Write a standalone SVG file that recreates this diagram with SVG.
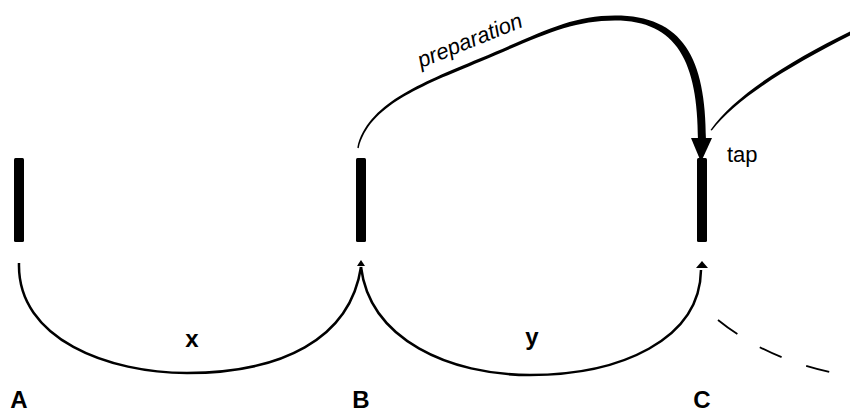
<svg xmlns="http://www.w3.org/2000/svg" width="850" height="415" viewBox="0 0 850 415">
<style>
.bar{fill:#000}
.arc{fill:none;stroke:#000;stroke-width:2.5}
.lbl{font-family:"Liberation Sans",Arial,sans-serif;font-weight:bold;font-size:24px;fill:#000;text-anchor:middle}
.sm{font-family:"Liberation Sans",Arial,sans-serif;font-size:22px;fill:#000}
</style>
<rect width="850" height="415" fill="#fff"/>
<g id="nodeA"><rect class="bar" x="14" y="158" width="10" height="84" rx="1.5"/><text class="lbl" x="19" y="408">A</text></g>
<g id="nodeB"><rect class="bar" x="356" y="158" width="10" height="84" rx="1.5"/><text class="lbl" x="361" y="408">B</text></g>
<g id="nodeC"><rect class="bar" x="697" y="158" width="10" height="84" rx="1.5"/><text class="lbl" x="702" y="408">C</text></g>
<g id="connectors">
<path class="arc" d="M19,263 C17,340 110,373 187,373 C280,373 350,340 361,267"/>
<polygon points="361,260 365,266 357,266"/>
<text class="lbl" x="192" y="347">x</text>
<path class="arc" d="M361,267 C370,340 450,375 530,375 C620,375 700,340 701,270"/>
<polygon points="702,261 708,268 696,268"/>
<text class="lbl" x="532" y="345">y</text>
<path d="M357.3,147.8 C367,104.5 419.4,83.6 479.4,58.6 C539.4,33.6 569.5,15.5 615,15.5 C683,15.5 706,58 706,140 L698,140 C698,62 677,20.5 615,20.5 C570.5,20.5 540.6,36.4 480.6,61.4 C420.6,86.4 369,105.5 358.7,148.2 Z"/>
<polygon points="691,138 712,138 701,162"/>
<text class="sm" font-style="italic" font-size="23" transform="translate(421,68) rotate(-22)">preparation</text>
<path d="M850,31.5 C790,61 735,95 710.5,130 L711.8,130.5 C737,97.5 792,65 850,35.5 Z"/>
<text class="sm" x="727" y="162">tap</text>
<path d="M718,320 Q770,362 845,375" fill="none" stroke="#000" stroke-width="1.8" stroke-dasharray="24,26"/>
</g>
</svg>
